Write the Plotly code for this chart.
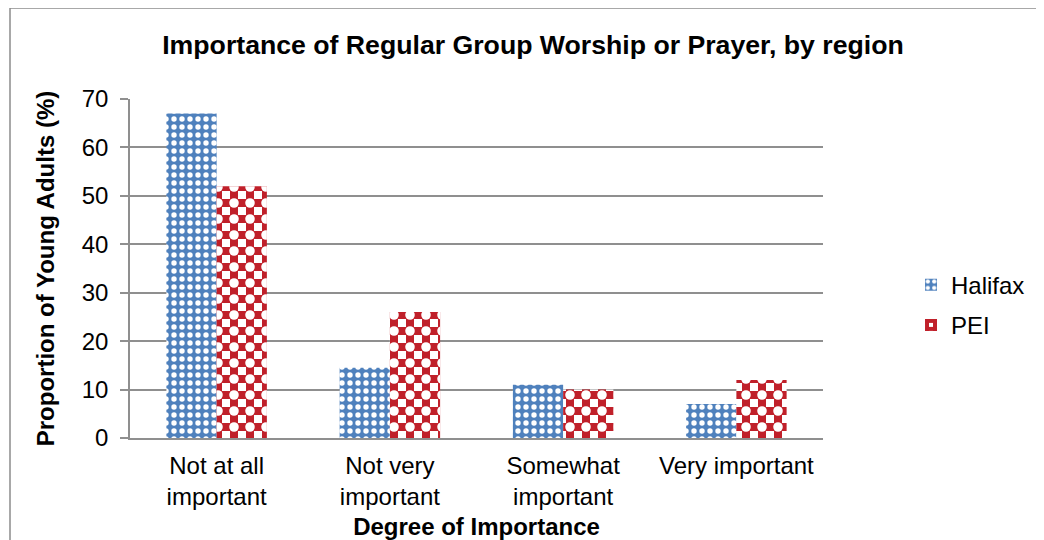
import plotly.graph_objects as go

categories = ["Not at all<br>important", "Not very<br>important", "Somewhat<br>important", "Very important"]
halifax = [67, 14.5, 11, 7]
pei = [52, 26, 10, 12]
y_ticks = [0, 10, 20, 30, 40, 50, 60, 70]

FONT = "Liberation Sans, Arial, sans-serif"
GRID = "#8F8F8F"
BLUE = "#4F81BD"
RED = "#C0202A"

# page is offset by the 8px body margin
W, H = 1036, 532
L, T = 122, 91
R = W - (823 - 8)
B = H - (438 - 8)
PW = W - L - R
PH = H - T - B

fig = go.Figure()
fig.add_trace(go.Bar(
    name="Halifax", x=categories, y=halifax, legendgroup="a", offsetgroup="1",
    marker=dict(color=BLUE, line=dict(width=0),
                pattern=dict(shape=".", fillmode="overlay", fgcolor="white", fgopacity=1,
                             size=8, solidity=0.36)),
))
fig.add_trace(go.Bar(
    name="PEI", x=categories, y=pei, legendgroup="b", offsetgroup="2",
    marker=dict(color="white", line=dict(width=0),
                pattern=dict(shape="+", fillmode="overlay", fgcolor=RED, fgopacity=1,
                             bgcolor="white", size=16, solidity=0.75)),
))
# white centres that turn the red cross grid into a checkerboard
fig.add_trace(go.Bar(
    name="PEI", x=categories, y=pei, legendgroup="b", offsetgroup="2",
    showlegend=False, hoverinfo="skip",
    marker=dict(color="rgba(0,0,0,0)", line=dict(width=0),
                pattern=dict(shape=".", fillmode="overlay", fgcolor="white", fgopacity=1,
                             bgcolor="rgba(0,0,0,0)", size=16, solidity=0.28)),
))

fig.update_layout(
    width=W, height=H,
    margin=dict(l=L, r=R, t=T, b=B, autoexpand=False),
    paper_bgcolor="white", plot_bgcolor="white",
    font=dict(family=FONT, size=24, color="black"),
    barmode="group", bargap=0.42, bargroupgap=0,
    title=dict(text="<b>Importance of Regular Group Worship or Prayer, by region</b>",
               font=dict(size=26.67, family=FONT, color="black"),
               x=525 / W, xanchor="center", y=1 - 37 / H, yanchor="middle",
               xref="container", yref="container"),
    legend=dict(x=1.127, xanchor="left", y=0.392, yanchor="middle",
                font=dict(size=24, family=FONT), tracegroupgap=6,
                traceorder="grouped", itemwidth=30),
    xaxis=dict(
        showline=True, linecolor=GRID, linewidth=1.5, ticks="",
        showgrid=False, ticklabelstandoff=5, automargin=False,
        title=dict(text="<b>Degree of Importance</b>", font=dict(size=24), standoff=13),
    ),
    yaxis=dict(
        range=[0, 70], tickvals=y_ticks, showgrid=True, gridcolor=GRID, gridwidth=1.5,
        showline=True, linecolor=GRID, linewidth=1.5,
        ticks="outside", ticklen=8, tickcolor=GRID, tickwidth=1.5,
        zeroline=False, ticklabelstandoff=7, automargin=False,
        title=dict(text="<b>Proportion of Young Adults (%)</b>", font=dict(size=24), standoff=20),
    ),
    shapes=[dict(type="rect", xref="paper", yref="paper",
                 x0=(2 - L) / PW, x1=(1100 - L) / PW,
                 y0=-0.6, y1=(430 - 0) / PH,
                 line=dict(color="#8C8C8C", width=1.5), fillcolor="rgba(0,0,0,0)",
                 layer="below")],
)

fig.write_html("out.html")
